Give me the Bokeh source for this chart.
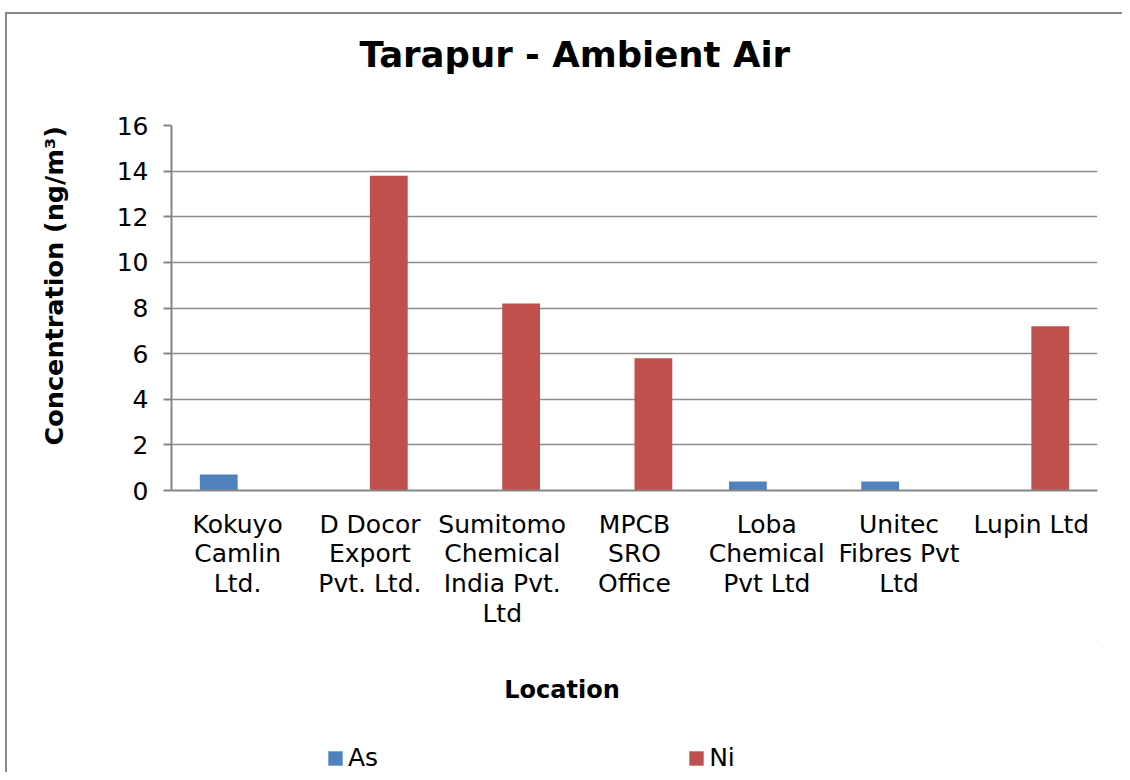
from bokeh.plotting import figure
from bokeh.layouts import column
from bokeh.models import (ColumnDataSource, Range1d, FixedTicker, Legend, LegendItem,
                          Title, Label, InlineStyleSheet)
from bokeh.transform import dodge
from bokeh.embed import file_html
from bokeh.resources import INLINE

# ---- data ----
locations = [
    "Kokuyo\nCamlin\nLtd.",
    "D Docor\nExport\nPvt. Ltd.",
    "Sumitomo\nChemical\nIndia Pvt.\nLtd",
    "MPCB\nSRO\nOffice",
    "Loba\nChemical\nPvt Ltd",
    "Unitec\nFibres Pvt\nLtd",
    "Lupin Ltd",
]
as_values = [0.7, 0.0, 0.0, 0.0, 0.4, 0.4, 0.0]
ni_values = [0.0, 13.8, 8.2, 5.8, 0.0, 0.0, 7.2]
y_ticks = [0, 2, 4, 6, 8, 10, 12, 14, 16]
series_names = ["As", "Ni"]
title_text = "Tarapur - Ambient Air"
x_title = "Location"
y_title = "Concentration (ng/m³)"

AS_COLOR = "#4F81BD"
NI_COLOR = "#C0504D"
FONT = "DejaVu Sans"
GRID = "#8c8c8c"
NBSP = "\u00a0"

src = ColumnDataSource(dict(loc=locations, As=as_values, Ni=ni_values))

border_top_css = InlineStyleSheet(css="""
:host { position: relative; }
:host::after { content: ""; position: absolute; left: 5px; top: 12px; right: 0; bottom: 0;
  border-left: 2px solid #898989; border-top: 2px solid #898989; pointer-events: none; }
""")
border_bottom_css = InlineStyleSheet(css="""
:host { position: relative; }
:host::after { content: ""; position: absolute; left: 5px; top: 0; right: 0; bottom: 0;
  border-left: 2px solid #898989; pointer-events: none; }
""")

W = 1122
H_MAIN = 640
H_FOOT = 132

p = figure(x_range=locations, y_range=Range1d(0, 16), width=W, height=H_MAIN,
           output_backend="svg", toolbar_location=None,
           min_border_left=171, min_border_right=25, min_border_top=125,
           min_border_bottom=150, stylesheets=[border_top_css])
p.outline_line_color = None
p.background_fill_color = "white"
p.border_fill_color = "white"

bw = 1.0 / 3.5
p.vbar(x=dodge("loc", -bw / 2, range=p.x_range), top="As", width=bw,
       source=src, fill_color=AS_COLOR, line_color=None)
p.vbar(x=dodge("loc", bw / 2, range=p.x_range), top="Ni", width=bw,
       source=src, fill_color=NI_COLOR, line_color=None)

# axes
p.yaxis.ticker = FixedTicker(ticks=y_ticks)
p.yaxis.major_tick_out = 8
p.yaxis.major_tick_in = 0
p.yaxis.minor_tick_line_color = None
p.yaxis.major_tick_line_color = "#868686"
p.yaxis.major_tick_line_width = 2
p.yaxis.major_label_standoff = 15
for ax in (p.xaxis[0], p.yaxis[0]):
    ax.axis_line_color = "#868686"
    ax.axis_line_width = 2
    ax.major_label_text_font = FONT
    ax.major_label_text_font_size = "25px"
    ax.major_label_text_color = "black"
p.xaxis.major_tick_line_color = None
p.xaxis.minor_tick_line_color = None
p.xaxis.major_label_standoff = 13
p.xaxis.major_label_text_line_height = 1.03

p.yaxis.axis_label = NBSP * 5 + y_title
p.yaxis.axis_label_standoff = 45
p.yaxis.axis_label_text_font = FONT
p.yaxis.axis_label_text_font_size = "25.5px"
p.yaxis.axis_label_text_font_style = "bold"
p.yaxis.axis_label_text_color = "black"

p.xgrid.grid_line_color = None
p.ygrid.ticker = FixedTicker(ticks=y_ticks)
p.ygrid.grid_line_color = GRID
p.ygrid.grid_line_width = 1.5

# spacer between title and frame
p.add_layout(Title(text=NBSP, text_font_size="10px", standoff=38), "above")

# main title
p.title.text = title_text
p.title.align = "left"
p.title.offset = 188
p.title.standoff = 0
p.title.text_font = FONT
p.title.text_font_size = "35.5px"
p.title.text_font_style = "bold"
p.title.text_color = "black"

# ---- footer: x-axis title and legend ----
f = figure(width=W, height=H_FOOT, x_range=Range1d(0, 1), y_range=Range1d(0, 1),
           x_axis_type=None, y_axis_type=None, output_backend="svg",
           toolbar_location=None, min_border=0, stylesheets=[border_bottom_css])
f.outline_line_color = None
f.grid.visible = False
f.background_fill_color = "white"
f.border_fill_color = "white"

f.add_layout(Label(x=390.5, y=83, x_units="screen", y_units="screen", text=x_title,
                   text_font=FONT, text_font_size="24px", text_font_style="bold",
                   text_align="center", text_baseline="alphabetic", text_color="black"))

# zero-size proxy renderers (built from the series data) that only feed the legend
leg_as = f.vbar(x="As", top="As", bottom="As", width=0, source=src,
                fill_color=AS_COLOR, line_color=None)
leg_ni = f.vbar(x="Ni", top="Ni", bottom="Ni", width=0, source=src,
                fill_color=NI_COLOR, line_color=None)
legend = Legend(items=[LegendItem(label=series_names[0], renderers=[leg_as]),
                       LegendItem(label=series_names[1], renderers=[leg_ni])],
                orientation="horizontal", location=(155, 0),
                glyph_width=18, glyph_height=18, label_standoff=4, spacing=309,
                padding=0, margin=0, border_line_color=None,
                background_fill_alpha=0, label_text_font=FONT,
                label_text_font_size="25px", label_text_color="black")
f.add_layout(legend, "center")

layout = column(p, f, spacing=0)
open("out.html", "w").write(file_html(layout, INLINE))
